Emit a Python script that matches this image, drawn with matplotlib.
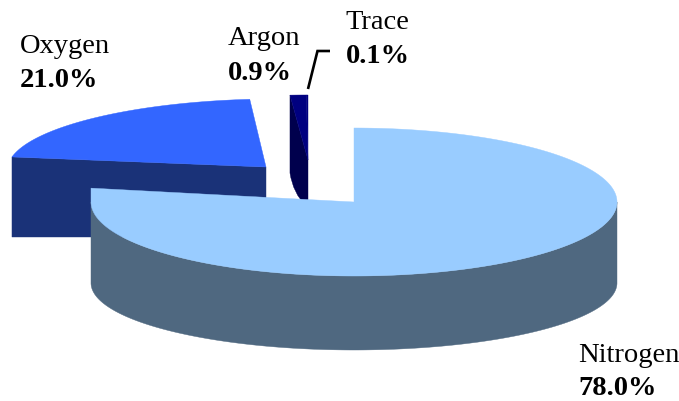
import numpy as np
import matplotlib
matplotlib.use("Agg")
import matplotlib.pyplot as plt
from matplotlib.patches import Polygon, PathPatch
from matplotlib.path import Path

labels = ["Nitrogen", "Oxygen", "Argon", "Trace"]
values = [78.0, 21.0, 0.9, 0.1]
value_labels = ["78.0%", "21.0%", "0.9%", "0.1%"]

plt.rcParams["font.family"] = ["Liberation Serif", "DejaVu Serif"]
TOP = {"Nitrogen": "#99ccff", "Oxygen": "#3366ff", "Argon": "#000080", "Trace": "#000080"}
SIDE_N, SIDE_O, SIDE_A = "#4f6880", "#1a3278", "#00004d"

fig = plt.figure(figsize=(6.79, 4.01), dpi=100)
ax = fig.add_axes([0, 0, 1, 1])
ax.set_xlim(0, 679)
ax.set_ylim(401, 0)
ax.axis("off")

# slice angles, clockwise from 12 o'clock
ends = 90 - np.cumsum(values) * 3.6
starts = np.r_[90, ends[:-1]]
ang = {n: (s, e) for n, s, e in zip(labels, starts, ends)}


def rim(cx, cy, rx, ry, a0, a1, shear=0.0, n=300):
    t = np.radians(np.linspace(a0, a1, n))
    x = rx * np.cos(t)
    y = -ry * np.sin(t) + shear * rx * np.cos(t)
    return np.column_stack([cx + x, cy + y])


def wedge(cx, cy, rx, ry, a0, a1, color, z, shear=0.0, clip_left=False):
    arc = rim(cx, cy, rx, ry, a0, a1, shear)
    if clip_left:
        # the rim is cut square at its leftmost point
        i = np.argmin(arc[:, 0])
        arc[i:, 0] = arc[i, 0]
    pts = np.vstack([[cx, cy], arc])
    ax.add_patch(Polygon(pts, closed=True, fc=color, ec=color, lw=0.3, zorder=z))


# Oxygen: pulled out to the upper left
ox, oy, orx, ory, oshear, oground = 266, 167, 258.6, 68, -0.0106, 237
a0, a1 = ang["Oxygen"]
oxy_end = rim(ox, oy, orx, ory, a0, a1, oshear)[0]
ax.add_patch(Polygon([oxy_end, (ox, oy), (ox, oground), (oxy_end[0], oground)],
                     closed=True, fc=SIDE_O, ec=SIDE_O, lw=0.3, zorder=1))
wedge(ox, oy, orx, ory, a0, a1, TOP["Oxygen"], 2, oshear)

# Argon and Trace: thin slices pulled out to the top
ax_, ay_, arx, ary = 308, 160, 287, 65
a0, a1 = ang["Argon"]
rim_pt = rim(ax_, ay_, arx, ary, a0, a1)[0]
verts = [tuple(rim_pt), (ax_, ay_), (ax_, 206), (306, 206), (293, 193), (rim_pt[0], 173), tuple(rim_pt)]
codes = [Path.MOVETO, Path.LINETO, Path.LINETO, Path.LINETO, Path.CURVE3, Path.CURVE3, Path.CLOSEPOLY]
ax.add_patch(PathPatch(Path(verts, codes), fc=SIDE_A, ec=SIDE_A, lw=0.3, zorder=1))
wedge(ax_, ay_, arx, ary, a0, a1, TOP["Argon"], 2)
a0, a1 = ang["Trace"]
wedge(ax_, ay_, arx, ary, a0, a1, TOP["Trace"], 2)

# Nitrogen: main body
cx, cy, rx, ry = 354, 202, 263, 74
bx, by, bry = 354, 283, 67
upper = rim(cx, cy, rx, ry, 0, -180)
lower = rim(bx, by, rx, bry, -180, 0)
ax.add_patch(Polygon(np.vstack([upper, lower]), closed=True, fc=SIDE_N, ec=SIDE_N, lw=0.3, zorder=3))
a0, a1 = ang["Nitrogen"]
wedge(cx, cy, rx, ry, a0, a1, TOP["Nitrogen"], 4, clip_left=True)

# Leader line for Trace
ax.plot([308, 317.5, 330], [89, 51, 51], color="black", lw=1.9, zorder=5,
        solid_joinstyle="miter", solid_capstyle="butt")

# Labels: name on top, bold share below
fs = 20.5
spots = {"Nitrogen": (578, 362, 395), "Oxygen": (20, 53, 87),
         "Argon": (228, 45, 80), "Trace": (345.5, 29, 63)}
for name, share in zip(labels, value_labels):
    x, y1, y2 = spots[name]
    ax.text(x, y1, name, fontsize=fs, va="baseline", ha="left", color="black", zorder=6)
    ax.text(x, y2, share, fontsize=fs, fontweight="bold", va="baseline", ha="left", color="black", zorder=6)

fig.savefig("out.png", dpi=100, facecolor="white")
